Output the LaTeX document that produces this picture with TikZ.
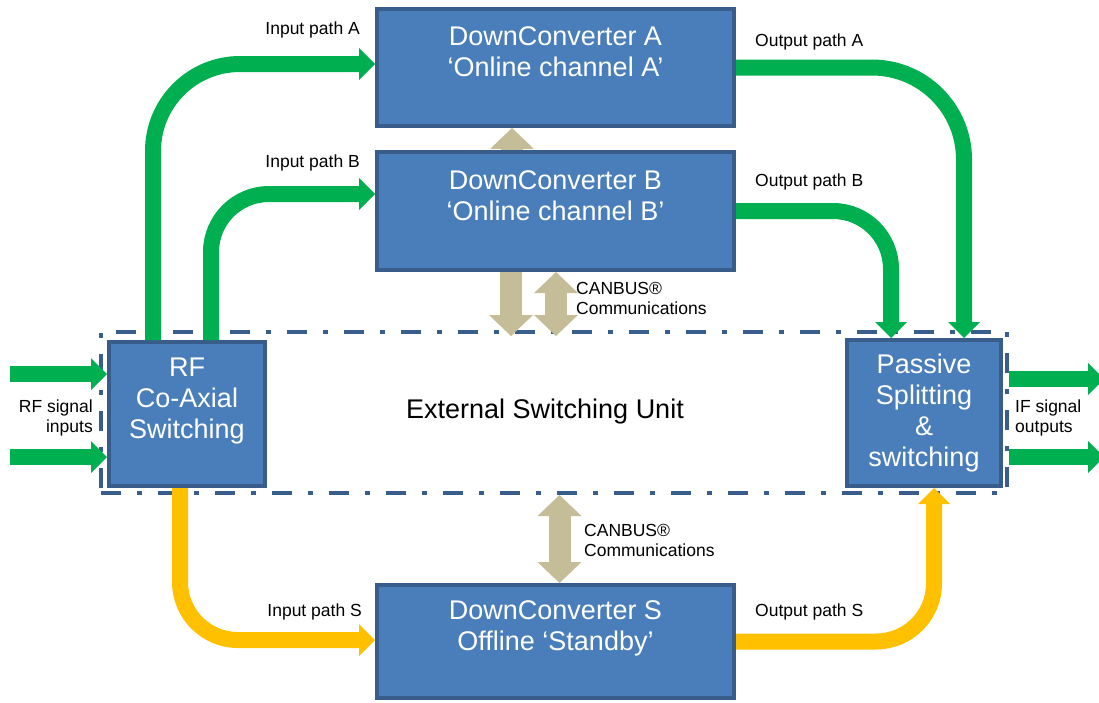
\documentclass[tikz,border=0pt]{standalone}
\usepackage{fontspec}
\setmainfont{Liberation Sans}
\usetikzlibrary{arrows.meta,calc}
\definecolor{boxfill}{HTML}{4A7EBB}
\definecolor{boxline}{HTML}{385D8A}
\definecolor{dashc}{HTML}{3A5E8C}
\definecolor{gr}{HTML}{00B050}
\definecolor{ye}{HTML}{FFC000}
\definecolor{kh}{HTML}{C4BD97}
\begin{document}
\begin{tikzpicture}[x=1pt,y=-1pt,
 box/.style={draw=boxline,fill=boxfill,line width=4pt,text=white,align=center,inner sep=0pt,font=\fontsize{27}{31}\selectfont},
 lbl/.style={font=\fontsize{17.5}{20}\selectfont,inner sep=0pt,align=left},
 garrow/.style={draw=gr,line width=16pt,-{Triangle[length=16pt,width=32pt,line width=0pt]}},
 yarrow/.style={draw=ye,line width=16pt,-{Triangle[length=16pt,width=32pt,line width=0pt]}},
 karrow/.style={draw=kh,line width=22pt,-{Triangle[length=21pt,width=44pt,line width=0pt]}},
 kdarrow/.style={draw=kh,line width=22pt,{Triangle[length=21pt,width=44pt,line width=0pt]}-{Triangle[length=21pt,width=44pt,line width=0pt]}},
 esustyle/.style={draw=dashc,line width=4pt,dash pattern=on 20pt off 16pt on 5pt off 16pt,inner sep=0pt}
]
\useasboundingbox (0,0) rectangle (1099,702);
\clip (0,0) rectangle (1099,702);

% external switching unit frame
\node[esustyle,minimum width=906pt,minimum height=161pt] (esu) at (554,412.5) {};
\node[font=\fontsize{27}{31}\selectfont,inner sep=0pt] (esut) at (545,412) {External Switching Unit};

% boxes
\node[box,minimum width=357pt,minimum height=117pt] (dca) at (555.5,67.5) {DownConverter A\\‘Online channel A’\\ \mbox{}};
\node[box,minimum width=357pt,minimum height=118pt] (dcb) at (555.5,211) {DownConverter B\\‘Online channel B’\\ \mbox{}};
\node[box,minimum width=357pt,minimum height=113pt] (dcs) at (555.5,641.5) {DownConverter S\\Offline ‘Standby’\\ \mbox{}};
\node[box,minimum width=156pt,minimum height=144pt] (rf) at (187,414) {RF\\Co-Axial\\Switching\\ \mbox{}};
\node[box,minimum width=154pt,minimum height=146pt] (ps) at (924,413) {Passive\\Splitting\\\&\\switching};

% labels
\node[lbl,anchor=east] (lia) at (360,30) {Input path A};
\node[lbl,anchor=east] (lib) at (360,163) {Input path B};
\node[lbl,anchor=west] (loa) at (755,42) {Output path A};
\node[lbl,anchor=west] (lob) at (755,182) {Output path B};
\node[lbl,anchor=east] (lis) at (362,612) {Input path S};
\node[lbl,anchor=west] (los) at (755,612) {Output path S};
\node[lbl,anchor=east,align=right] (rfin) at (93,418) {RF signal\\inputs};
\node[lbl,anchor=west] (ifout) at (1015,418) {IF signal\\outputs};
\node[lbl,anchor=west] (can1) at (576,298) {CANBUS®\\Communications};
\node[lbl,anchor=west] (can2) at (584,540) {CANBUS®\\Communications};

% RF inputs and IF outputs
\coordinate (i1) at (10,374);
\coordinate (i2) at (10,457);
\draw[garrow] (i1) -- (i1 -| rf.west);
\draw[garrow] (i2) -- (i2 -| rf.west);
\coordinate (o1) at (1104,379);
\coordinate (o2) at (1104,457);
\draw[garrow] (o1 -| esu.east) -- (o1);
\draw[garrow] (o2 -| esu.east) -- (o2);

% green paths
\draw[garrow,rounded corners=87pt] ([xshift=-34pt]rf.north) |- ([yshift=3.5pt]dca.west);
\draw[garrow,rounded corners=58pt] ([xshift=24pt]rf.north) |- ([yshift=17pt]dcb.west);
\draw[garrow,rounded corners=92pt] (dca.east) -| ([xshift=40pt]ps.north);
\draw[garrow,rounded corners=58pt] (dcb.east) -| ([xshift=-33pt]ps.north);

% yellow paths
\draw[yarrow,rounded corners=58pt] ([xshift=-7pt]rf.south) |- ([yshift=1.5pt]dcs.west);
\draw[yarrow,rounded corners=58pt] (dcs.east) -| ([xshift=10pt]ps.south);

% CANBUS arrows
\coordinate (k0) at ([xshift=-43.5pt]dcb.north);
\draw[karrow] (k0) -- (k0 |- dca.south);
\coordinate (k1) at ([xshift=-44.5pt]dcb.south);
\draw[karrow] (k1) -- ($(k1 |- esu.north)+(0,6)$);
\coordinate (k2) at ([xshift=0.5pt]dcb.south);
\draw[kdarrow] (k2) -- ($(k2 |- esu.north)+(0,6)$);
\coordinate (k3) at ([xshift=4pt]dcs.north);
\draw[kdarrow] (k3 |- esu.south) -- (k3);
\end{tikzpicture}
\end{document}
